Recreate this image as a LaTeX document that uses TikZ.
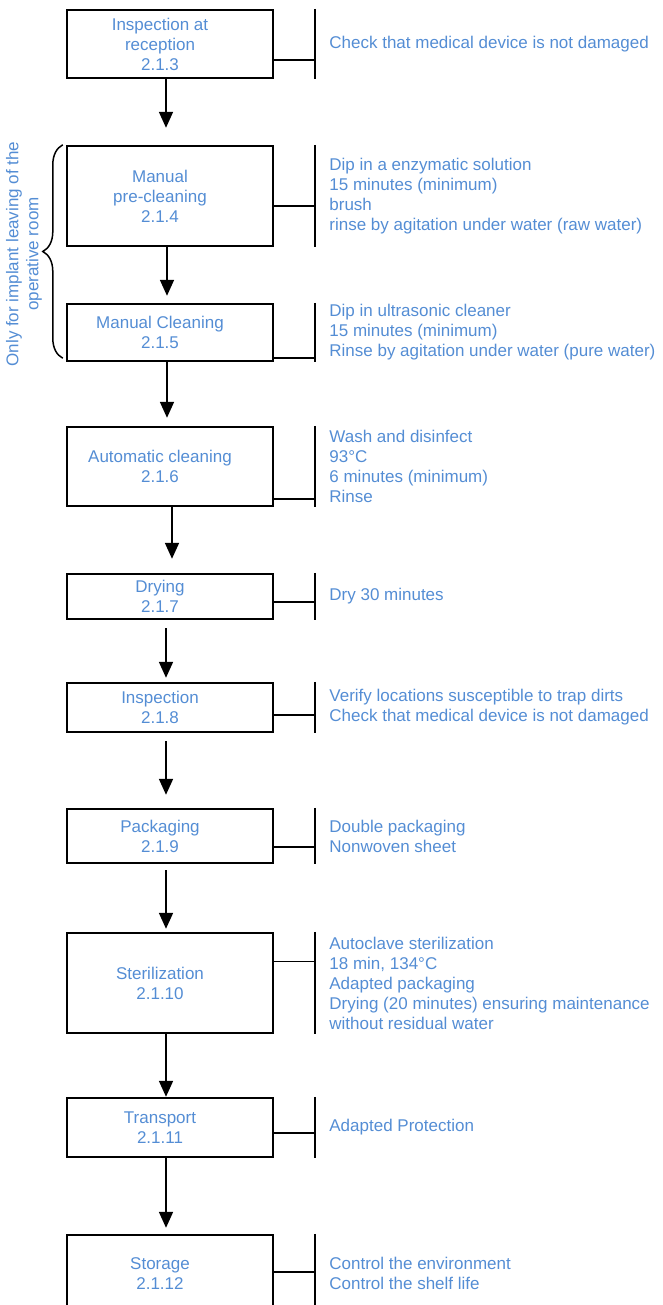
\documentclass[tikz,border=0pt]{standalone}
\usepackage{fontspec}
\setmainfont{Liberation Sans}
\usepackage{xcolor}
\usepackage{tikz}
\usetikzlibrary{arrows.meta, positioning, calc, decorations.pathreplacing}
\definecolor{stepblue}{RGB}{84,141,212}

\begin{document}
\begin{tikzpicture}[
    x=1pt, y=-1pt,
    stepbox/.style={draw, line width=2.4pt, minimum width=206pt, inner sep=0pt},
    steptext/.style={text=stepblue, align=center, inner sep=0pt, font=\fontsize{17}{20}\selectfont},
    note/.style={text=stepblue, align=left, inner sep=0pt, font=\fontsize{17}{20}\selectfont},
    arrow/.style={-{Triangle[length=16pt, width=14pt]}, line width=1.8pt},
    bar/.style={line width=1.8pt},
    tick/.style={line width=1.6pt}
]
    \useasboundingbox (0,0) rectangle (662,1305);
    \clip (0,0) rectangle (662,1305);

    % Steps
    \node[stepbox, minimum height=68pt] (insp) at (170,44) {};
    \node[stepbox, minimum height=100pt] (preclean) at (170,196) {};
    \node[stepbox, minimum height=57pt] (mclean) at (170,332.5) {};
    \node[stepbox, minimum height=79pt] (autoclean) at (170,466.5) {};
    \node[stepbox, minimum height=45pt] (drying) at (170,596.5) {};
    \node[stepbox, minimum height=49pt] (inspect) at (170,707.5) {};
    \node[stepbox, minimum height=54pt] (pack) at (170,836) {};
    \node[stepbox, minimum height=100pt] (steril) at (170,983) {};
    \node[stepbox, minimum height=59pt] (transp) at (170,1127.5) {};
    \node[stepbox, minimum height=77pt] (storage) at (170,1273.5) {};

    % Step titles
    \node[steptext] (insp-t) at ([xshift=-10pt]insp.center) {Inspection at\\reception\\2.1.3};
    \node[steptext] (preclean-t) at ([xshift=-10pt]preclean.center) {Manual\\pre-cleaning\\2.1.4};
    \node[steptext] (mclean-t) at ([xshift=-10pt]mclean.center) {Manual Cleaning\\2.1.5};
    \node[steptext] (autoclean-t) at ([xshift=-10pt]autoclean.center) {Automatic cleaning\\2.1.6};
    \node[steptext] (drying-t) at ([xshift=-10pt]drying.center) {Drying\\2.1.7};
    \node[steptext] (inspect-t) at ([xshift=-10pt]inspect.center) {Inspection\\2.1.8};
    \node[steptext] (pack-t) at ([xshift=-10pt]pack.center) {Packaging\\2.1.9};
    \node[steptext] (steril-t) at ([xshift=-10pt]steril.center) {Sterilization\\2.1.10};
    \node[steptext] (transp-t) at ([xshift=-10pt]transp.center) {Transport\\2.1.11};
    \node[steptext] (storage-t) at ([xshift=-10pt]storage.center) {Storage\\2.1.12};

    % Notes
    \node[note, right=55pt of insp] (insp-n) {Check that medical device is not damaged};
    \node[note, right=55pt of preclean] (preclean-n) {Dip in a enzymatic solution\\15 minutes (minimum)\\brush\\rinse by agitation under water (raw water)};
    \node[note, right=55pt of mclean] (mclean-n) {Dip in ultrasonic cleaner\\15 minutes (minimum)\\Rinse by agitation under water (pure water)};
    \node[note, right=55pt of autoclean] (autoclean-n) {Wash and disinfect\\93°C\\6 minutes (minimum)\\Rinse};
    \node[note, right=55pt of drying] (drying-n) {Dry 30 minutes};
    \node[note, right=55pt of inspect] (inspect-n) {Verify locations susceptible to trap dirts\\Check that medical device is not damaged};
    \node[note, right=55pt of pack] (pack-n) {Double packaging\\Nonwoven sheet};
    \node[note, right=55pt of steril] (steril-n) {Autoclave sterilization\\18 min, 134°C\\Adapted packaging\\Drying (20 minutes) ensuring maintenance\\without residual water};
    \node[note, right=55pt of transp] (transp-n) {Adapted Protection};
    \node[note, right=55pt of storage] (storage-n) {Control the environment\\Control the shelf life};

    % Bars and ticks
    \foreach \s/\f in {insp/0.73, preclean/0.6, mclean/0.93, autoclean/0.9, drying/0.62, inspect/0.65, pack/0.7, steril/0.29, transp/0.59, storage/0.48} {
        \draw[bar] ([xshift=41pt]\s.north east) coordinate (\s-top) -- ([xshift=41pt]\s.south east) coordinate (\s-bot);
        \draw[tick] ($(\s.north east)!\f!(\s.south east)$) -- ($(\s-top)!\f!(\s-bot)$);
    }

    % Arrows
    \draw[arrow, shorten >=17pt] ([xshift=-4pt]insp.south) -- ([xshift=-4pt]preclean.north);
    \draw[arrow, shorten >=7pt] ([xshift=-3pt]preclean.south) -- ([xshift=-3pt]mclean.north);
    \draw[arrow, shorten >=8pt] ([xshift=-3pt]mclean.south) -- ([xshift=-3pt]autoclean.north);
    \draw[arrow, shorten >=14pt] ([xshift=2pt]autoclean.south) -- ([xshift=2pt]drying.north);
    \draw[arrow, shorten <=8pt, shorten >=4pt] ([xshift=-4pt]drying.south) -- ([xshift=-4pt]inspect.north);
    \draw[arrow, shorten <=8pt, shorten >=13pt] ([xshift=-4pt]inspect.south) -- ([xshift=-4pt]pack.north);
    \draw[arrow, shorten <=6pt, shorten >=3pt] ([xshift=-4pt]pack.south) -- ([xshift=-4pt]steril.north);
    \draw[arrow] ([xshift=-4pt]steril.south) -- ([xshift=-4pt]transp.north);
    \draw[arrow, shorten >=6pt] ([xshift=-4pt]transp.south) -- ([xshift=-4pt]storage.north);

    % Brace for the optional steps
    \draw[line width=1.5pt, decorate, decoration={brace, amplitude=20pt}] ([shift={(-3pt,4pt)}]mclean.south west) -- ([xshift=-3pt]preclean.north west);
    \node[steptext, rotate=90] (onlyfor) at (24,254) {Only for implant leaving of the\\operative room};
\end{tikzpicture}
\end{document}
